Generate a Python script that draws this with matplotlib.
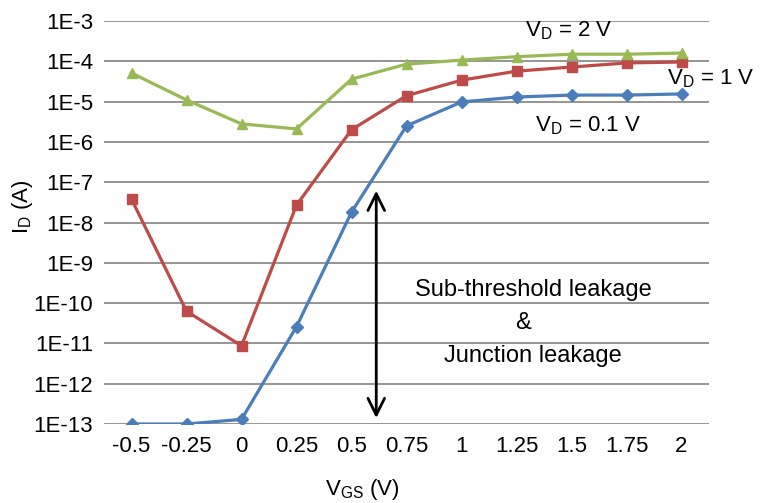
import matplotlib
matplotlib.use("Agg")
import matplotlib.pyplot as plt
import numpy as np

# ---- data ----
vgs_labels = ["-0.5", "-0.25", "0", "0.25", "0.5", "0.75", "1", "1.25", "1.5", "1.75", "2"]
id_vd01 = [1.0e-13, 1.0e-13, 1.3e-13, 2.6e-11, 1.8e-8, 2.5e-6, 9.8e-6, 1.3e-5, 1.45e-5, 1.45e-5, 1.55e-5]
id_vd1 = [3.8e-8, 6.3e-11, 8.7e-12, 2.7e-8, 2.0e-6, 1.4e-5, 3.4e-5, 5.7e-5, 7.2e-5, 9.1e-5, 9.6e-5]
id_vd2 = [5.1e-5, 1.1e-5, 2.8e-6, 2.1e-6, 3.6e-5, 8.5e-5, 1.07e-4, 1.3e-4, 1.5e-4, 1.5e-4, 1.6e-4]
y_tick_values = [1e-13, 1e-12, 1e-11, 1e-10, 1e-9, 1e-8, 1e-7, 1e-6, 1e-5, 1e-4, 1e-3]
y_tick_labels = ["1E-13", "1E-12", "1E-11", "1E-10", "1E-9", "1E-8", "1E-7", "1E-6", "1E-5", "1E-4", "1E-3"]
arrow_span = (7.2e-8, 1.2e-13)
arrow_pos = 4.45

plt.rcParams['font.family'] = ['Liberation Sans', 'DejaVu Sans']
plt.rcParams['mathtext.default'] = 'regular'

fig = plt.figure(figsize=(7.61, 5.03), dpi=100)
W, H = 761, 503
left, right, top, bottom = 104, 709, 21, 424
ax = fig.add_axes([left / W, 1 - bottom / H, (right - left) / W, (bottom - top) / H])

x = np.arange(len(vgs_labels))
blue, red, green = "#4A7EBB", "#BE4B48", "#98B954"

ax.plot(x, id_vd01, color=blue, lw=2.3, marker="D", ms=6, zorder=3)
ax.plot(x, id_vd1, color=red, lw=2.3, marker="s", ms=7, zorder=3)
ax.plot(x, id_vd2, color=green, lw=2.3, marker="^", ms=7.5, zorder=3)

ax.set_yscale("log")
ax.set_ylim(1e-13, 1e-3)
ax.set_xlim(-0.5, 10.5)
ax.yaxis.set_major_locator(matplotlib.ticker.FixedLocator(y_tick_values))
ax.yaxis.set_minor_locator(matplotlib.ticker.NullLocator())
ax.set_yticks(y_tick_values)
ax.set_yticklabels(y_tick_labels)
ax.set_xticks(x)
ax.set_xticklabels(vgs_labels)
ax.tick_params(axis="both", length=0, labelsize=16)
ax.tick_params(axis="y", pad=8)
ax.tick_params(axis="x", pad=9)
ax.grid(axis="y", color="#8c8c8c", lw=1.3)
ax.set_axisbelow(True)
for s in ax.spines.values():
    s.set_visible(False)

ax.set_xlabel(r"V$_{GS}$ (V)", fontsize=16)
ax.xaxis.set_label_coords((362 - left) / (right - left), -(490 - bottom) / (bottom - top))
ax.xaxis.label.set_va("center")
ax.set_ylabel(r"I$_{D}$ (A)", fontsize=16)
ax.yaxis.set_label_coords((22 - left) / (right - left), (bottom - 207) / (bottom - top))
ax.yaxis.label.set_va("center")

# arrow
ax.annotate("", xy=(arrow_pos, arrow_span[0]), xytext=(arrow_pos, arrow_span[1]),
            arrowprops=dict(arrowstyle="<->", color="black", lw=2, mutation_scale=30))

def fx(px):
    return (px - left) / (right - left)

def fy(py):
    return (bottom - py) / (bottom - top)

ax.text(fx(533), fy(290), "Sub-threshold leakage", transform=ax.transAxes,
        ha="center", va="center", fontsize=17)
ax.text(fx(523), fy(323), "&", transform=ax.transAxes, ha="center", va="center", fontsize=17)
ax.text(fx(533), fy(356), "Junction leakage", transform=ax.transAxes,
        ha="center", va="center", fontsize=17)

ax.text(fx(525), fy(31), r"V$_{D}$ = 2 V", transform=ax.transAxes, ha="left", va="center",
        fontsize=16, clip_on=False)
ax.text(fx(667), fy(79), r"V$_{D}$ = 1 V", transform=ax.transAxes, ha="left", va="center",
        fontsize=16, clip_on=False)
ax.text(fx(535), fy(126), r"V$_{D}$ = 0.1 V", transform=ax.transAxes, ha="left", va="center",
        fontsize=16, clip_on=False)

fig.savefig("out.png", dpi=100)
